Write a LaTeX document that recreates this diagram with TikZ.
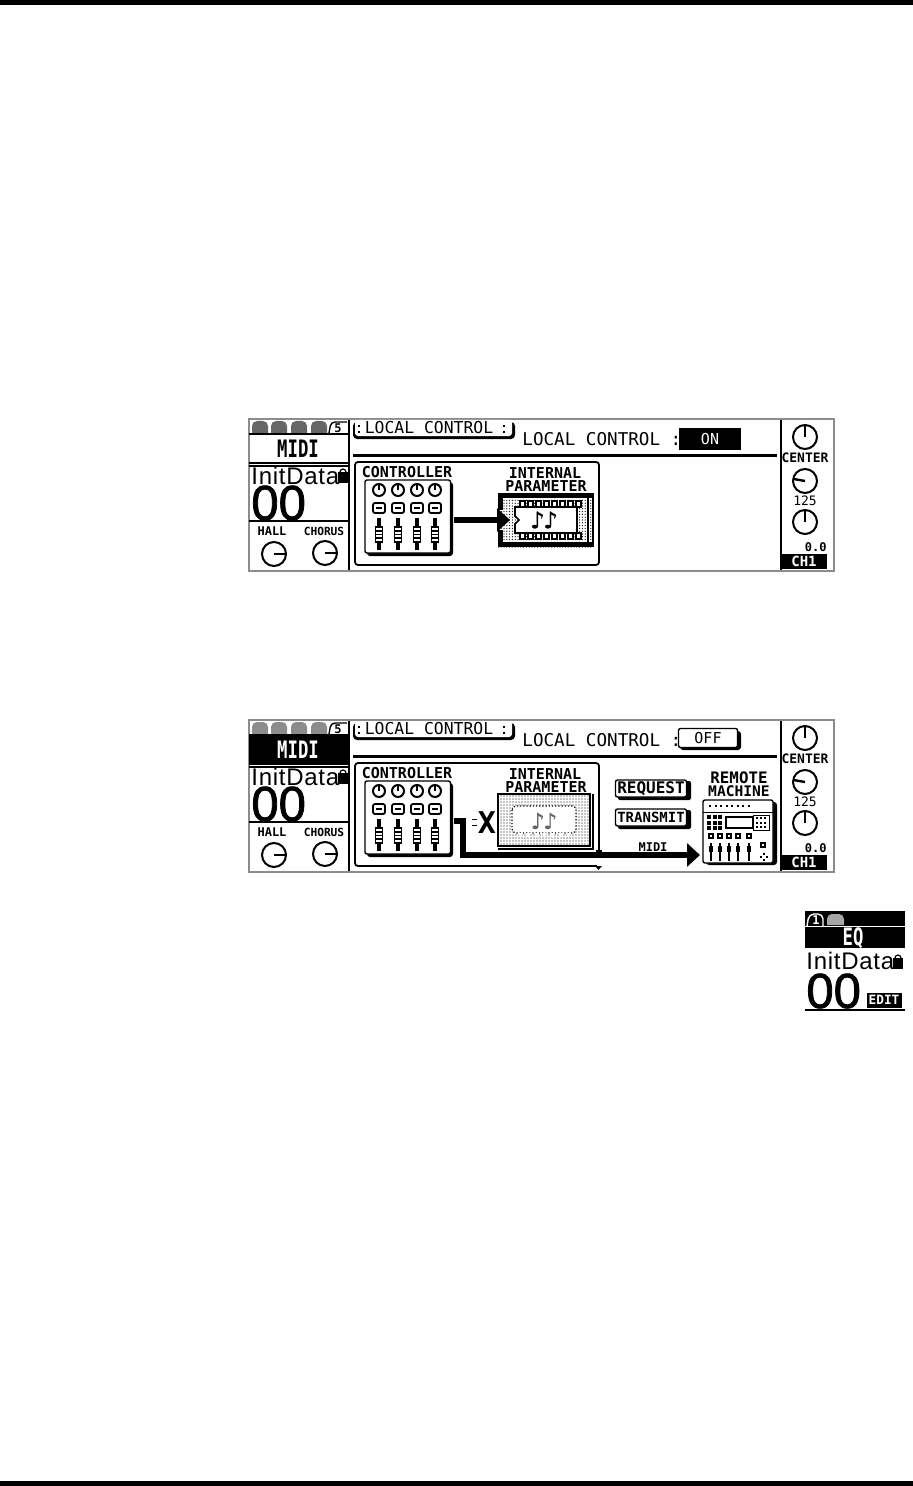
\documentclass[tikz,border=0pt]{standalone}
\usepackage{fontspec}
\usetikzlibrary{arrows.meta,patterns.meta}
\setmainfont{Liberation Sans}
\newfontfamily\lcdbold{DejaVu Sans Mono Bold}
\newfontfamily\lcdmono{DejaVu Sans Mono}
\newfontfamily\notefont[FakeBold=0.6]{DejaVu Sans}
\newfontfamily\datafont[LetterSpace=3]{Liberation Sans}
\newfontfamily\numberfont[FakeBold=1.6]{Liberation Sans}
\newcommand{\lcdnarrow}[1]{\scalebox{0.72}[1]{#1}}
\tikzset{
	frameline/.style={draw=black!45,line width=1.3pt},
	rule/.style={line width=1pt},
	thinrule/.style={line width=0.7pt},
	tablabel/.style={inner sep=0pt,font=\lcdmono\fontsize{8.2}{8.2}\selectfont},
	smalllabel/.style={inner sep=0pt,font=\lcdbold\fontsize{7.5}{7.5}\selectfont},
	tinylabel/.style={inner sep=0pt,font=\lcdbold\fontsize{6}{6}\selectfont},
	bigtitle/.style={inner sep=0pt,font=\lcdbold\fontsize{12}{12}\selectfont},
	datalabel/.style={inner sep=0pt,anchor=west,font=\datafont\fontsize{12}{12}\selectfont},
	datanumber/.style={inner sep=0pt,anchor=west,font=\numberfont\fontsize{24.5}{24.5}\selectfont},
	dither/.style={pattern={Dots[distance=1.4pt,radius=0.32pt]}},
	bigarrow/.style={line width=3pt,-{Triangle[length=6.5pt,width=11.5pt]}},
	buttonbox/.style={draw,thinrule,fill=white,inner sep=0pt,minimum width=35.5pt,minimum height=8.5pt,rounded corners=1pt},
}
% small knob: x, y, radius, pointer angle
\newcommand{\lcdknob}[4]{
	\draw[line width=1pt,fill=white] (#1,#2) circle[radius=#3];
	\draw[line width=1.2pt] (#1,#2) -- ++(#4:#3);
}
\newcommand{\lcdlock}[2]{
	\fill (#1,#2) rectangle ++(10,11);
	\draw[line width=0.6pt] (#1+5,#2) circle[radius=3];
}
% everything both screens have in common
\newcommand{\lcdscreen}[2]{
	\draw[frameline] (249,419) rectangle (834,571);
	\draw[rule] (349,420) -- (349,570);
	\draw[rule] (781,420) -- (781,570);
	% page tabs
	\foreach \tabx in {252,271,291,311}
		\fill[#2] (\tabx,433) [rounded corners=2.5pt] -- (\tabx,421) -- ++(16,0) [sharp corners] -- ++(0,12) -- cycle;
	\draw[thinrule,rounded corners=2pt] (329,433) -- (331,422) -- (347,422);
	\node[tinylabel] (#1tabfive) at (338,428) {5};
	\draw[thinrule] (249,434) -- (349,434);
	\draw[thinrule] (249,463) -- (349,463);
	\draw[rule] (249,466) -- (349,466);
	\draw[thinrule] (249,521) -- (349,521);
	\node[datalabel] (#1initdata) at (251,476) {InitData};
	\lcdlock{338}{472}
	\node[datanumber] (#1number) at (251,503) {00};
	\node[tinylabel] (#1hall) at (272,531) {HALL};
	\node[tinylabel,font=\lcdbold\fontsize{5.6}{5.6}\selectfont] (#1chorus) at (324,531) {CHORUS};
	\lcdknob{274}{554}{12}{0}
	\lcdknob{325}{553}{12}{0}
	% heading tab and rule
	\fill[rounded corners=2pt] (353,422) -- (353,439) -- (515,439) -- (515,422) -- cycle;
	\fill[white,rounded corners=1.5pt] (355,420) -- (355,436) -- (512,436) -- (512,420) -- cycle;
	\node[tablabel] (#1heading) at (429,428) {LOCAL CONTROL};
	\foreach \doty in {425,431} {
		\fill (358,\doty) rectangle ++(2,2);
		\fill (503,\doty) rectangle ++(2,2);
	}
	\draw[line width=1.5pt] (353,455) -- (777,455);
	\node[tablabel,anchor=west,font=\lcdmono\fontsize{8.8}{8.8}\selectfont] (#1local) at (522,439) {LOCAL CONTROL :};
	% right column
	\lcdknob{805}{437}{12}{-90}
	\node[smalllabel,font=\lcdbold\fontsize{6.5}{6.5}\selectfont] (#1center) at (805,458) {CENTER};
	\lcdknob{805}{481}{12}{190}
	\node[smalllabel,font=\lcdmono\fontsize{6.5}{6.5}\selectfont] (#1pan) at (805,501) {125};
	\lcdknob{805}{522}{12}{-90}
	\node[tinylabel,anchor=east] (#1value) at (827,547) {0.0};
	\node[fill=black,text=white,inner sep=0pt,minimum width=23pt,minimum height=7.5pt,font=\lcdbold\fontsize{7}{7}\selectfont] (#1channel) at (804,561) {CH1};
	% controller block
	\node[smalllabel] (#1controller) at (407,472.5) {CONTROLLER};
	\fill[rounded corners=1.5pt] (367,482) rectangle (453,556);
	\fill[white,draw=black,line width=0.7pt,rounded corners=1pt] (365,480) rectangle (450.5,553);
	\foreach \knobx in {379,398,417,435} {
		\lcdknob{\knobx}{490}{6}{-90}
		\draw[line width=0.9pt,rounded corners=1pt,fill=white] (\knobx-6,503) rectangle (\knobx+6,513);
		\draw[line width=0.9pt] (\knobx-3,508) -- (\knobx+3,508);
		\draw[line width=1.8pt] (\knobx,518) -- (\knobx,550);
		\draw[line width=0.7pt,fill=white] (\knobx-3.5,527) rectangle (\knobx+3.5,542);
		\draw[line width=0.6pt] (\knobx-3.5,531) -- (\knobx+3.5,531) (\knobx-3.5,534.5) -- (\knobx+3.5,534.5) (\knobx-3.5,538) -- (\knobx+3.5,538);
	}
	\node[smalllabel] (#1internal) at (545,473.5) {INTERNAL};
	\node[smalllabel] (#1parameter) at (546,486.5) {PARAMETER};
}
\begin{document}
\begin{tikzpicture}[x=0.5pt,y=-0.5pt]
	\useasboundingbox (0,0) rectangle (913,1486);
	\fill[white] (0,0) rectangle (913,1486);
	\fill (0,0) rectangle (913,5);
	\fill (0,1481) rectangle (913,1486);

	% screen with local control on
	\lcdscreen{on}{black!60}
	\node[bigtitle] (ontitle) at (298,449) {\lcdnarrow{MIDI}};
	\draw[line width=0.9pt,rounded corners=1.5pt] (355,462) rectangle (599,565);
	\node[fill=black,text=white,inner sep=0pt,minimum width=31pt,minimum height=11pt,font=\lcdmono\fontsize{7.5}{7.5}\selectfont] (onswitch) at (710,439) {ON};
	% chip
	\fill[dither] (498,493) rectangle (593,547);
	\fill (498,493) rectangle (593,498);
	\fill (498,542) rectangle (593,547);
	\fill (498,493) rectangle (503,510);
	\fill (498,530) rectangle (503,547);
	\draw[thinrule] (593,493) -- (593,547) (588,497) -- (588,543);
	\foreach \pinx in {520,528,...,576} {
		\draw[thinrule,fill=white] (\pinx,507) rectangle ++(5,-6);
		\draw[thinrule,fill=white] (\pinx,533) rectangle ++(5,6);
	}
	\draw[line width=0.8pt,fill=white] (515,507) -- (577,507) -- (577,533) -- (515,533) -- (515,524) -- (519,520) -- (515,516) -- cycle;
	\node[inner sep=0pt,font=\notefont\fontsize{11.5}{11.5}\selectfont] (onnotes) at (544,520) {♪\kern-0.8pt♪};
	\coordinate (ontail) at (454,520);
	\coordinate (onchip) at (510,520);
	\draw[bigarrow] (ontail) -- (onchip);

	% screen with local control off
	\begin{scope}[shift={(0,301)}]
		\lcdscreen{off}{black!45}
		\fill (249,434) rectangle (349,463);
		\node[bigtitle,text=white] (offtitle) at (298,449) {\lcdnarrow{MIDI}};
		\draw[line width=0.9pt,rounded corners=1.5pt] (599,550) -- (599,462) -- (355,462) -- (355,565) -- (597,565);
		\fill (595,565) -- (602,565) -- (598.5,569) -- cycle;
		\fill (596,549) rectangle (602,551);
		\fill[rounded corners=1.5pt] (680,430) rectangle (741,449);
		\node[draw,line width=0.7pt,fill=white,inner sep=0pt,minimum width=29.5pt,minimum height=9.5pt,rounded corners=1pt,font=\lcdmono\fontsize{7.5}{7.5}\selectfont] (offswitch) at (708,437) {OFF};
		% chip
		\fill[pattern={Dots[distance=1.5pt,radius=0.3pt]}] (498,493) rectangle (590,545);
		\draw[line width=1.4pt] (498,493) rectangle (590,545);
		\draw[line width=0.7pt] (593,493) -- (593,548) -- (498,548);
		\draw[line width=0.6pt,densely dotted,fill=white,rounded corners=2pt] (512,505) rectangle (576,532);
		\foreach \pinx in {518,526,...,570}
			\fill[white] (\pinx,532) -- ++(5,0) -- ++(-2.5,5) -- cycle;
		\node[inner sep=0pt,text=black!60,font=\notefont\fontsize{11}{11}\selectfont] (offnotes) at (544,520) {♪\kern-0.8pt♪};
		% link to the remote machine
		\coordinate (offtail) at (454,520);
		\coordinate (offcorner) at (463,554);
		\coordinate (offremote) at (700,554);
		\draw[line width=3.4pt] (offtail) -- (offcorner |- offtail) -- (offcorner) -- (690,554);
		\draw[bigarrow] (offcorner) -- (offremote);
		\node[inner sep=0pt,font=\lcdbold\fontsize{15}{15}\selectfont] (offcross) at (487,522) {X};
		\draw[thinrule] (472,518.5) -- (477,518.5) (472,524.5) -- (477,524.5);
		% buttons
		\fill[rounded corners=1pt] (618,480) rectangle (691,499);
		\fill[rounded corners=1pt] (618,509) rectangle (691,528);
		\node[buttonbox,font=\lcdbold\fontsize{8}{8}\selectfont] (offrequest) at (651,487.5) {REQUEST};
		\node[buttonbox,font=\lcdbold\fontsize{7}{7}\selectfont] (offtransmit) at (651,516.5) {TRANSMIT};
		\node[tinylabel] (offmidi) at (653,546) {MIDI};
		\node[smalllabel,font=\lcdbold\fontsize{7.9}{7.9}\selectfont] (offmachinea) at (739,477) {REMOTE};
		\node[smalllabel,font=\lcdbold\fontsize{7.3}{7.3}\selectfont] (offmachineb) at (739,490) {MACHINE};
		% remote machine
		\fill[rounded corners=1.5pt] (706,501) rectangle (777,564);
		\draw[thinrule,fill=white,rounded corners=1pt] (703,499) rectangle (773,562);
		\foreach \dotx in {709,714.5,...,748}
			\fill (\dotx,504) rectangle ++(2,2);
		\draw[line width=0.4pt] (703,511) -- (773,511);
		\foreach \gridx in {707,712.5,718}
			\foreach \gridy in {514,519.5,525}
				\fill (\gridx,\gridy) rectangle ++(4,4);
		\draw[line width=1pt,fill=white] (726,516) rectangle (753,527);
		\draw[line width=0.4pt] (753,514) rectangle (769,529);
		\foreach \gridx in {756,760,764}
			\foreach \gridy in {516,520.5,525}
				\fill (\gridx,\gridy) rectangle ++(2,2);
		\foreach \slidex in {711,720,729,738,749} {
			\draw[line width=0.7pt] (\slidex-2,533) rectangle ++(4,4);
			\draw[line width=0.6pt] (\slidex,542) -- (\slidex,560);
			\draw[line width=0.5pt,fill=black] (\slidex-1.5,545) rectangle ++(3,5);
		}
		\draw[line width=0.7pt] (761,542) rectangle ++(4,4);
		\foreach \dotx/\doty in {763/552,760/555,766/555,763/558}
			\fill (\dotx,\doty) rectangle ++(1.5,1.5);
	\end{scope}

	% small screen at the margin
	\fill (805,911) rectangle (905,948);
	\draw[white,thinrule] (805,926.5) -- (905,926.5);
	\draw[white,thinrule,rounded corners=2.5pt] (807,926) -- (809,914) -- (823,914) -- (823,926);
	\node[text=white,tinylabel] (marginone) at (816,920) {1};
	\fill[black!35] (827,925) [rounded corners=2.5pt] -- (827,914) -- (844,914) [sharp corners] -- (844,925) -- cycle;
	\node[bigtitle,text=white] (margintitle) at (853,938) {\lcdnarrow{EQ}};
	\node[datalabel] (margindata) at (806,961) {InitData};
	\lcdlock{893}{958}
	\node[datanumber] (marginnumber) at (806,991) {00};
	\node[fill=black,text=white,inner sep=0pt,minimum width=17.5pt,minimum height=7.5pt,font=\lcdbold\fontsize{6.4}{6.4}\selectfont] (marginedit) at (884,1000) {EDIT};
	\draw[thinrule] (805,1010) -- (905,1010);
\end{tikzpicture}
\end{document}
